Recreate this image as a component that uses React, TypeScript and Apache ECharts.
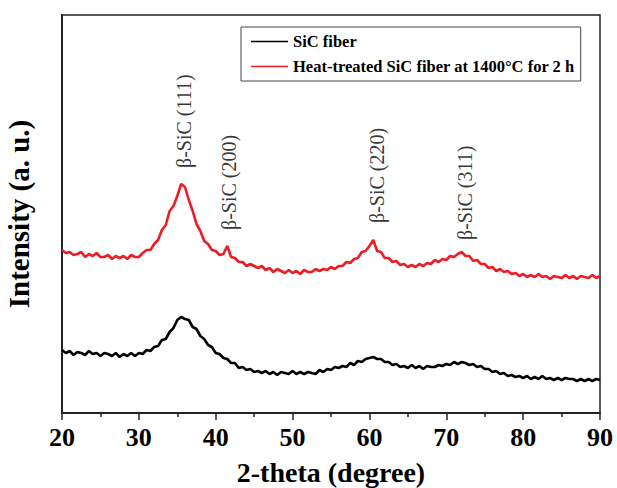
import React, { useEffect, useRef } from "react";
import * as echarts from "echarts";

// 2-theta sampling grid (degrees), 20 to 90 in 0.5 steps
const twoTheta: number[] = [];
for (let i = 0; i <= 140; i++) twoTheta.push(20 + i * 0.5);

// Intensity (a. u.)
const sicFiber: number[] = [
  63, 60, 62, 58, 61, 60, 58, 62, 59, 60,
  57, 60, 59, 57, 60, 56, 59, 57, 60, 57,
  60, 59, 63, 62, 66, 67, 73, 74, 81, 85,
  93, 96, 94, 93, 86, 84, 77, 74, 68, 66,
  60, 59, 55, 54, 50, 50, 45, 46, 43, 44,
  41, 42, 40, 42, 39, 41, 38, 41, 40, 39,
  42, 39, 41, 39, 41, 40, 39, 43, 41, 44,
  43, 46, 45, 47, 46, 50, 48, 52, 51, 54,
  55, 56, 54, 54, 51, 51, 48, 49, 46, 47,
  45, 48, 45, 47, 44, 47, 46, 46, 48, 47,
  49, 48, 51, 49, 51, 50, 48, 49, 46, 47,
  44, 44, 41, 42, 39, 40, 37, 38, 36, 37,
  35, 37, 34, 36, 34, 37, 34, 35, 33, 35,
  33, 35, 34, 34, 32, 34, 32, 34, 32, 34,
  33,
];

const heatTreated: number[] = [
  163, 160, 161, 158, 159, 161, 156, 159, 157, 160,
  156, 156, 158, 154, 157, 155, 157, 154, 158, 156,
  156, 160, 163, 163, 169, 173, 183, 188, 202, 207,
  217, 229, 226, 213, 202, 189, 182, 172, 169, 163,
  162, 158, 159, 167, 156, 155, 151, 151, 147, 149,
  147, 145, 147, 143, 145, 141, 144, 142, 140, 143,
  140, 142, 139, 143, 141, 141, 144, 142, 144, 143,
  146, 144, 147, 147, 151, 150, 154, 155, 161, 162,
  167, 173, 162, 161, 155, 155, 151, 152, 148, 149,
  146, 148, 146, 149, 147, 150, 149, 153, 151, 154,
  153, 157, 156, 159, 161, 157, 157, 152, 153, 149,
  149, 145, 146, 142, 144, 141, 142, 139, 140, 137,
  139, 136, 138, 136, 139, 136, 137, 134, 137, 136,
  135, 138, 135, 137, 134, 137, 136, 135, 138, 135,
  137,
];

const seriesNames = ["SiC fiber", "Heat-treated SiC fiber at 1400°C for 2 h"];
const seriesColors = ["#000000", "#ee1c24"];

const peakLabels = ["β-SiC (111)", "β-SiC (200)", "β-SiC (220)", "β-SiC (311)"];
const peakPos = [35.9, 41.7, 61.0, 72.4];
const peakLabelBase = [245, 183, 190, 173];

const SERIF = "'Liberation Serif', 'Times New Roman', serif";

export default function App() {
  const ref = useRef<HTMLDivElement>(null);
  useEffect(() => {
    if (!ref.current) return;
    const chart = echarts.init(ref.current, undefined, { renderer: "svg" });
    const black = twoTheta.map((x, i) => [x, sicFiber[i]]);
    const red = twoTheta.map((x, i) => [x, heatTreated[i]]);
    chart.setOption({
      animation: false,
      backgroundColor: "#fff",
      grid: {
        left: 62,
        right: 17,
        top: 15,
        bottom: 75,
        containLabel: false,
        outerBoundsMode: "none",
        show: true,
        borderColor: "#222",
        borderWidth: 1.5,
      },
      legend: {
        left: 241,
        top: 27,
        orient: "vertical",
        data: seriesNames.map((n, i) => ({
          name: n,
          icon: "rect",
          itemStyle: { color: seriesColors[i], borderWidth: 0 },
        })),
        itemWidth: 37,
        itemHeight: 1.3,
        itemGap: 8,
        borderColor: "#444",
        borderWidth: 1,
        padding: [6, 6, 6, 10],
        textStyle: {
          fontFamily: SERIF,
          fontWeight: "bold",
          fontSize: 16.5,
          color: "#000",
        },
      },
      xAxis: {
        type: "value",
        min: 20,
        max: 90,
        interval: 10,
        name: "2-theta (degree)",
        nameLocation: "middle",
        nameGap: 45,
        nameMoveOverlap: false,
        nameTextStyle: {
          fontFamily: SERIF,
          fontWeight: "bold",
          fontSize: 28,
          color: "#000",
        },
        axisLine: { show: true, lineStyle: { color: "#222", width: 2 } },
        axisTick: { show: true, inside: false, length: 7, lineStyle: { color: "#222", width: 1.5 } },
        minorTick: { show: true, splitNumber: 2, length: 4, lineStyle: { color: "#222", width: 1.5 } },
        axisLabel: {
          fontFamily: SERIF,
          fontWeight: "bold",
          fontSize: 26,
          color: "#000",
          margin: 11,
        },
        splitLine: { show: false },
      },
      yAxis: {
        type: "value",
        min: 0,
        max: 398,
        name: "Intensity (a. u.)",
        nameLocation: "middle",
        nameGap: 29,
        nameMoveOverlap: false,
        nameTextStyle: {
          fontFamily: SERIF,
          fontWeight: "bold",
          fontSize: 29,
          color: "#000",
        },
        axisLine: { show: true, lineStyle: { color: "#222", width: 2 } },
        axisTick: { show: false },
        axisLabel: { show: false },
        splitLine: { show: false },
      },
      series: [
        {
          name: seriesNames[0],
          type: "line",
          data: black,
          symbol: "none",
          lineStyle: { color: seriesColors[0], width: 2.6 },
          itemStyle: { color: seriesColors[0] },
        },
        {
          name: seriesNames[1],
          type: "line",
          data: red,
          symbol: "none",
          lineStyle: { color: seriesColors[1], width: 2.6 },
          itemStyle: { color: seriesColors[1] },
        },
        {
          type: "scatter",
          data: peakPos.map((x, i) => [x, peakLabelBase[i], peakLabels[i]]),
          symbolSize: 0,
          silent: true,
          label: {
            show: true,
            formatter: (p: any) => p.data[2],
            position: [0, 0],
            rotate: 90,
            align: "left",
            verticalAlign: "middle",
            fontFamily: SERIF,
            fontSize: 20,
            color: "#000",
          },
        },
      ],
    });
    return () => chart.dispose();
  }, []);
  return (
    <div
      ref={ref}
      style={{ position: "fixed", left: 0, top: 0, width: 617, height: 488 }}
    />
  );
}
